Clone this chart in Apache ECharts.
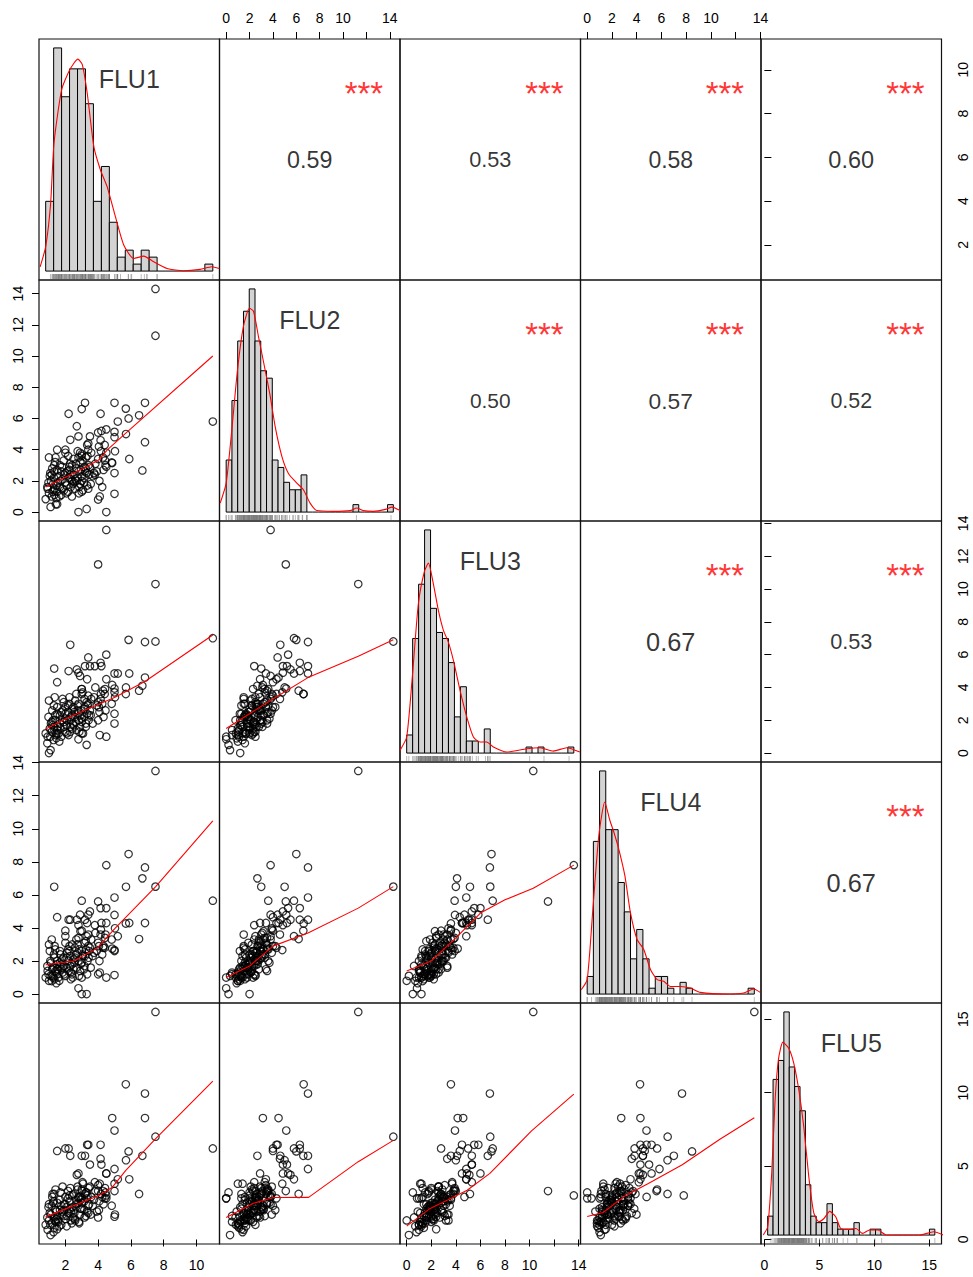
<!DOCTYPE html>
<html>
<head>
<meta charset="utf-8">
<title>FLU correlation matrix</title>
<script src="https://cdn.jsdelivr.net/npm/echarts@6.0.0/dist/echarts.min.js"></script>
<style>
  html, body { margin: 0; padding: 0; background: #fff; }
  #chart { width: 973px; height: 1277px; }
</style>
</head>
<body>
<div id="chart"></div>
<script>
const varNames = ['FLU1', 'FLU2', 'FLU3', 'FLU4', 'FLU5'];

// one entry per subject, same order in every array
const FLU1 = [
  7.5, 7.5, 11.0, 4.5, 4.0, 6.86, 5.86, 5.69, 6.86, 4.86, 5.0,
  3.2, 5.0, 2.2, 3.0, 4.15, 5.2, 6.5, 2.7, 4.5, 4.2,
  5.0, 5.7, 2.3, 2.8, 3.5, 4.15, 3.4, 6.7, 5.0, 5.0,
  4.83, 1.5, 2.0, 1.0, 1.32, 3.33, 4.5, 4.3, 5.03, 4.1,
  4.5, 2.8, 3.3, 3.0, 4.0, 3.0, 2.9, 3.8, 5.9, 4.4,
  0.8, 0.92, 1.0, 1.1, 1.05, 1.17, 1.25, 1.33, 1.28, 1.42,
  1.38, 1.12, 1.2, 1.33, 1.47, 0.97, 1.08, 1.22, 1.3, 1.4,
  0.9, 1.45, 1.35, 1.17, 1.5, 1.5, 1.58, 1.67, 1.67, 1.75,
  1.83, 1.8, 1.92, 1.9, 2.0, 2.0, 2.08, 2.17, 2.2, 2.25,
  2.33, 2.3, 2.42, 2.4, 1.5, 1.63, 1.7, 1.83, 1.92, 2.0,
  2.1, 2.17, 2.3, 2.42, 2.45, 1.55, 1.75, 2.08, 2.25, 2.33,
  2.5, 2.5, 2.58, 2.67, 2.67, 2.75, 2.83, 2.8, 2.92, 2.9,
  3.0, 3.0, 3.08, 3.17, 3.17, 3.25, 3.33, 3.3, 3.42, 3.4,
  2.55, 2.65, 2.75, 2.85, 2.95, 3.05, 3.15, 3.25, 3.35, 3.45,
  2.6, 2.8, 3.0, 3.2, 3.4, 3.5, 3.58, 3.67, 3.83, 3.92,
  4.0, 4.08, 4.17, 4.33, 4.42, 3.55, 3.75, 4.05, 4.25, 4.45
];
const FLU2 = [
  14.3, 11.3, 5.8, 3.8, 5.1, 7.0, 6.0, 6.63, 4.48, 3.14, 5.14,
  7.0, 7.0, 6.3, 6.6, 6.3, 5.8, 6.2, 5.5, 5.3, 5.2,
  4.8, 5.0, 4.63, 4.85, 4.85, 4.6, 4.4, 2.67, 2.5, 1.17,
  3.18, 4.0, 4.0, 3.5, 3.0, 4.3, 2.9, 3.5, 3.9, 1.0,
  0.0, 0.0, 0.2, 2.0, 0.8, 3.6, 3.8, 2.4, 3.4, 4.3,
  0.83, 1.5, 1.2, 0.33, 2.3, 1.0, 1.8, 2.6, 1.4, 0.5,
  3.2, 2.0, 2.8, 1.1, 1.7, 1.9, 2.5, 1.3, 2.2, 3.5,
  1.6, 0.9, 1.5, 2.4, 1.3, 0.5, 2.3, 1.6, 3.0, 1.1,
  2.1, 2.9, 1.4, 3.3, 2.5, 1.9, 1.2, 3.6, 2.2, 2.7,
  1.6, 3.1, 2.0, 1.0, 2.7, 1.0, 2.0, 1.5, 2.4, 3.8,
  2.6, 1.3, 2.4, 3.0, 1.8, 1.9, 2.6, 1.7, 2.9, 2.1,
  2.4, 3.4, 1.5, 2.8, 2.0, 3.9, 1.2, 2.6, 3.2, 1.8,
  2.3, 3.7, 1.4, 2.9, 2.2, 3.5, 1.7, 2.5, 3.0, 4.0,
  1.9, 3.1, 2.2, 1.6, 2.7, 3.3, 1.9, 2.8, 3.6, 2.4,
  2.1, 3.5, 1.3, 2.6, 1.5, 2.9, 3.8, 2.3, 3.1, 2.6,
  3.4, 2.0, 3.9, 2.7, 3.3, 1.8, 2.5, 4.2, 1.6, 3.0
];
const FLU3 = [
  6.8, 10.3, 7.0, 13.6, 11.5, 6.77, 6.9, 3.6, 4.6, 4.15, 3.93,
  5.3, 4.85, 5.0, 3.6, 5.5, 4.85, 3.8, 5.1, 6.0, 5.3,
  3.7, 4.0, 6.6, 4.9, 5.3, 3.3, 5.83, 4.1, 1.8, 2.4,
  3.0, 4.32, 2.8, 3.2, 5.15, 4.5, 4.5, 3.8, 3.4, 1.1,
  1.0, 0.84, 0.5, 1.2, 2.0, 3.9, 4.7, 5.3, 4.85, 3.6,
  1.2, 1.0, 0.0, 0.18, 1.5, 1.3, 2.0, 1.6, 0.8, 1.1,
  2.3, 1.8, 2.6, 1.4, 1.2, 2.2, 1.0, 1.7, 2.9, 2.0,
  0.6, 0.9, 3.4, 1.9, 2.4, 1.4, 1.2, 2.3, 1.8, 1.0,
  2.6, 2.0, 1.6, 3.1, 1.3, 2.1, 1.7, 2.5, 1.1, 3.0,
  2.2, 1.6, 2.7, 1.5, 2.8, 0.7, 1.5, 3.3, 1.9, 2.4,
  2.0, 2.9, 1.3, 2.3, 1.8, 1.6, 2.5, 1.2, 3.4, 2.0,
  1.7, 2.8, 2.2, 3.6, 1.4, 2.6, 2.0, 3.0, 2.3, 1.6,
  3.9, 2.1, 1.2, 2.7, 3.3, 1.8, 2.4, 3.1, 2.0, 3.5,
  2.5, 1.9, 2.9, 1.3, 2.6, 3.7, 2.2, 1.6, 2.9, 2.3,
  3.2, 2.4, 1.9, 2.8, 3.0, 2.6, 3.3, 1.8, 4.0, 2.9,
  3.1, 2.5, 3.6, 2.2, 3.9, 2.3, 3.4, 2.8, 3.0, 2.6
];
const FLU4 = [
  6.5, 13.5, 5.65, 7.8, 5.6, 7.66, 8.47, 4.27, 4.3, 2.75, 4.79,
  4.5, 5.84, 4.5, 3.83, 5.2, 3.5, 3.33, 4.5, 5.2, 4.3,
  2.66, 6.49, 4.5, 4.17, 5.0, 3.6, 4.8, 7.0, 1.15, 2.6,
  3.3, 4.65, 3.83, 3.0, 6.49, 4.3, 4.3, 2.8, 3.98, 1.3,
  1.0, 0.35, 0.0, 0.0, 1.2, 5.65, 4.8, 4.17, 4.3, 2.8,
  1.0, 1.4, 0.8, 1.1, 2.6, 0.79, 1.6, 2.2, 1.0, 1.3,
  2.7, 1.9, 1.5, 0.9, 1.8, 1.2, 2.0, 1.1, 2.4, 1.4,
  1.7, 0.66, 2.9, 3.3, 1.5, 1.2, 1.0, 1.9, 2.6, 1.5,
  1.3, 2.1, 1.7, 2.2, 1.1, 3.1, 1.6, 2.7, 1.4, 2.9,
  0.9, 2.3, 1.8, 1.2, 2.0, 0.8, 2.4, 1.6, 1.2, 3.5,
  2.5, 2.0, 1.7, 3.0, 1.0, 1.5, 1.8, 2.2, 2.6, 1.3,
  2.1, 1.5, 2.8, 3.3, 1.6, 2.5, 1.1, 2.0, 3.8, 1.4,
  2.6, 1.9, 2.3, 3.1, 1.7, 2.7, 1.2, 3.5, 2.2, 2.9,
  1.9, 2.4, 3.0, 2.7, 1.8, 2.4, 1.5, 3.2, 2.0, 2.6,
  2.2, 3.4, 1.0, 2.3, 3.6, 2.8, 3.3, 2.3, 3.7, 2.6,
  3.1, 2.0, 3.9, 2.9, 3.4, 1.6, 2.5, 2.9, 2.4, 3.6
];
const FLU5 = [
  7.0, 15.5, 6.2, 3.0, 3.3, 9.94, 6.0, 10.57, 8.27, 8.27, 7.42,
  5.7, 4.8, 6.2, 5.7, 6.45, 4.1, 3.1, 4.4, 4.5, 5.1,
  3.8, 5.4, 5.7, 4.5, 5.1, 5.5, 6.45, 5.7, 3.3, 1.55,
  2.3, 6.03, 6.2, 2.4, 3.1, 6.45, 4.5, 3.3, 1.7, 3.8,
  2.8, 2.8, 3.2, 2.8, 1.5, 3.4, 2.9, 3.9, 4.1, 2.8,
  1.0, 0.66, 1.3, 0.3, 1.8, 1.1, 2.5, 1.5, 0.5, 1.2,
  2.0, 1.7, 2.9, 0.8, 1.4, 2.2, 1.0, 3.1, 2.6, 3.4,
  1.5, 1.9, 1.3, 2.3, 0.7, 1.6, 1.2, 2.7, 2.0, 1.0,
  3.6, 1.9, 2.4, 1.6, 2.9, 1.4, 2.2, 3.3, 1.8, 2.6,
  1.3, 2.1, 3.0, 1.1, 2.5, 0.9, 3.2, 1.7, 2.0, 2.4,
  1.6, 2.8, 3.5, 2.2, 1.5, 1.3, 2.3, 0.9, 3.0, 1.9,
  2.0, 3.1, 1.4, 2.7, 2.4, 3.6, 1.2, 2.9, 2.1, 1.7,
  3.3, 2.5, 3.8, 1.5, 2.6, 3.2, 1.9, 2.8, 3.5, 2.3,
  1.8, 2.2, 3.4, 1.1, 2.7, 3.9, 2.0, 1.6, 3.0, 2.4,
  1.3, 2.5, 2.1, 3.1, 1.8, 3.6, 2.9, 2.3, 3.3, 1.9,
  3.7, 2.6, 3.1, 2.4, 3.5, 1.7, 2.7, 2.0, 2.9, 3.2
];

// histogram bar heights (0.5 wide bins)
const histStart = [0.5, 0, 0, 0, 0];
const histBin = 0.5;
const FLU1_hist = [10, 32, 25, 29, 29, 24, 10, 15, 7, 2, 3, 1, 3, 2, 0, 0, 0, 0, 0, 0, 1];
const FLU2_hist = [7, 15, 23, 27, 30, 23, 19, 18, 7, 6, 4, 3, 3, 5, 0, 0, 0, 0, 0, 0, 0, 0, 1, 0, 0, 0, 0, 0, 1];
const FLU3_hist = [3, 19, 28, 37, 24, 20, 19, 15, 6, 11, 2, 2, 0, 4, 0, 0, 0, 0, 0, 0, 1, 0, 1, 0, 0, 0, 0, 1];
const FLU4_hist = [3, 26, 38, 28, 28, 19, 14, 6, 11, 6, 1, 3, 3, 1, 0, 2, 1, 0, 0, 0, 0, 0, 0, 0, 0, 0, 1];
const FLU5_hist = [3.2, 26.3, 29.5, 37.7, 28.4, 25.1, 21, 8.5, 3.2, 2.1, 2.1, 5.3, 2.1, 1, 1, 1, 2.1, 0, 0, 1, 1, 0, 0, 0, 0, 0, 0, 0, 0, 0, 1];

// red density curves on the diagonal, same units as the bars
const FLU1_dens = [[0.15, 0.6], [0.5, 3.5], [0.81, 9.7], [1.02, 18.3], [1.5, 26.0], [2.02, 28.9], [2.52, 30.4], [2.8, 29.6], [3.11, 25.5], [3.53, 17.8], [3.94, 14.5], [4.36, 12.1], [4.88, 7.8], [5.41, 3.7], [6.03, 1.8], [6.66, 2.15], [7.29, 1.34], [8.12, 0.38], [9.16, 0.05], [10.2, 0.24], [10.94, 0.62], [11.4, 0.38]];
const FLU2_dens = [[-0.52, 1.2], [0, 3.9], [0.49, 11.1], [0.98, 19.1], [1.5, 25.0], [2.02, 27.4], [2.37, 27.0], [2.8, 23.6], [3.38, 19.1], [3.82, 15.6], [4.25, 11.5], [4.83, 7.5], [5.4, 5.2], [6.13, 3.9], [6.7, 3.0], [7.28, 1.2], [7.86, 0.2], [9.3, 0.1], [10.75, 0.2], [11.33, 0.54], [11.9, 0.2], [12.77, 0.1], [13.9, 0.4], [14.36, 0.67], [15.1, 0.2]];
const FLU3_dens = [[-0.56, 0.44], [0, 2.66], [0.47, 12.6], [0.98, 24.8], [1.48, 30.1], [1.82, 31.5], [2.23, 28.1], [2.65, 23.7], [3.07, 20.4], [3.49, 18.4], [3.91, 15.4], [4.47, 10.4], [5.03, 6.0], [5.59, 2.66], [6.15, 1.83], [6.7, 1.83], [7.26, 1.0], [8.38, 0.17], [10.06, 0.72], [11.17, 0.89], [12.29, 0.33], [13.41, 0.89], [14.5, 0.17]];
const FLU4_dens = [[-0.48, 0.74], [0, 2.46], [0.46, 14.5], [0.94, 27.0], [1.42, 32.7], [1.83, 29.6], [2.15, 27.6], [2.55, 24.7], [3.04, 20.2], [3.49, 13.9], [4.03, 9.3], [4.57, 7.6], [5.11, 4.2], [5.65, 2.46], [6.18, 2.17], [6.72, 1.3], [7.53, 1.3], [8.33, 1.03], [9.14, 0.29], [11.29, 0], [12.63, 0.17], [13.44, 0.86], [13.98, 0.29]];
const FLU5_dens = [[-0.41, 0], [0, 1.4], [0.375, 10.5], [0.69, 22.9], [1.0, 29.7], [1.41, 32.6], [1.94, 31.6], [2.41, 29.1], [2.88, 24.6], [3.34, 18.4], [3.81, 9.9], [4.28, 3.7], [4.75, 2.26], [5.22, 2.8], [5.75, 4.0], [6.31, 3.1], [6.78, 1.1], [7.56, 0.96], [8.19, 1.1], [8.81, 0.28], [9.44, 0.85], [10.22, 0.85], [11.0, 0], [14.1, 0], [15.4, 0.56], [16.3, 0]];

// lowess lines in the lower panels, [x, y] in data units
const smooth21 = [[0.8, 1.6], [3.33, 2.92], [4.05, 3.35], [4.56, 3.99], [5.69, 5.06], [11.0, 10.0]];
const smooth31 = [[0.8, 1.47], [2.1, 2.12], [3.33, 2.67], [5.03, 3.4], [6.86, 4.36], [11.0, 7.2]];
const smooth41 = [[0.8, 1.77], [2.51, 2.0], [3.95, 2.78], [5.03, 3.98], [7.5, 6.49], [11.0, 10.48]];
const smooth51 = [[0.8, 1.54], [4.05, 3.0], [4.87, 3.56], [5.69, 4.71], [7.5, 6.86], [11.0, 10.78]];
const smooth32 = [[0, 1.5], [2, 2.4], [4, 3.3], [7, 4.6], [11.3, 5.9], [14.3, 6.9]];
const smooth42 = [[0, 1.0], [2, 1.7], [4, 2.9], [7, 3.7], [11.3, 5.2], [14.3, 6.5]];
const smooth52 = [[0, 1.49], [2.34, 2.47], [4.05, 2.86], [7.05, 2.87], [11.3, 5.3], [14.3, 6.75]];
const smooth43 = [[0, 1.4], [2, 2.0], [4, 3.4], [6, 4.9], [8, 5.7], [10.3, 6.4], [13.6, 7.8]];
const smooth53 = [[0, 0.91], [1.83, 2.07], [3.37, 2.7], [4.92, 3.35], [6.77, 4.5], [10.16, 7.4], [13.6, 9.9]];
const smooth54 = [[0, 1.56], [1.29, 1.84], [3.11, 3.0], [4.94, 3.81], [7.68, 5.09], [10.72, 6.83], [13.5, 8.29]];

// upper panels, row by row: correlation and significance
const corrText = ['0.59', '0.53', '0.58', '0.60', '0.50', '0.57', '0.52', '0.67', '0.53', '0.67'];
const corrStars = ['***', '***', '***', '***', '***', '***', '***', '***', '***', '***'];

// axis ticks per variable (labels that R dropped for overlap are left out)
const axisTicks = [
  [2, 4, 6, 8, 10],
  [0, 2, 4, 6, 8, 10, 12, 14],
  [0, 2, 4, 6, 8, 10, 12, 14],
  [0, 2, 4, 6, 8, 10, 12, 14],
  [0, 5, 10, 15]
];
const xTickLabels = [
  [2, 4, 6, 8, 10],
  [0, 2, 4, 6, 8, 10, 14],
  [0, 2, 4, 6, 8, 10, 14],
  [0, 2, 4, 6, 8, 10, 14],
  [0, 5, 10, 15]
];

const values = [FLU1, FLU2, FLU3, FLU4, FLU5];
const hists = [FLU1_hist, FLU2_hist, FLU3_hist, FLU4_hist, FLU5_hist];
const dens = [FLU1_dens, FLU2_dens, FLU3_dens, FLU4_dens, FLU5_dens];
const smooths = {
  '2-1': smooth21, '3-1': smooth31, '4-1': smooth41, '5-1': smooth51,
  '3-2': smooth32, '4-2': smooth42, '5-2': smooth52,
  '4-3': smooth43, '5-3': smooth53, '5-4': smooth54
};

const FONT = "'Liberation Sans', Arial, Helvetica, sans-serif";
const LEFT = 39, TOP = 39, CELL_W = 180.5, CELL_H = 241;

// R pads every range by 4% on each side
const pad = (lo, hi) => { const d = (hi - lo) * 0.04; return [lo - d, hi + d]; };
const ranges = values.map(v => pad(Math.min(...v), Math.max(...v)));

const grids = [], xAxes = [], yAxes = [], series = [];

const plainAxis = (gridIndex, range, position) => ({
  gridIndex, type: 'value', min: range[0], max: range[1], position, show: false,
  splitLine: { show: false }, axisLine: { show: false }
});

const tickedAxis = (gridIndex, range, position, ticks, labels) => ({
  gridIndex, type: 'value', min: range[0], max: range[1], position, show: true,
  splitLine: { show: false },
  axisLine: { show: false },
  axisTick: { show: true, inside: false, length: 7, customValues: ticks, lineStyle: { color: '#000', width: 1 } },
  axisLabel: {
    show: true, customValues: labels, margin: 14, fontSize: 14, color: '#000', fontFamily: FONT,
    rotate: (position === 'left' || position === 'right') ? 90 : 0
  }
});

function addDiagonal(k, g, xi, yi) {
  const bars = hists[k];
  const b0 = histStart[k], b1 = b0 + bars.length * histBin;
  const hx = pad(b0, b1), hy = pad(0, Math.max(...bars));
  xAxes.push(plainAxis(g, hx, 'top'));
  yAxes.push(plainAxis(g, hy, 'left'));

  series.push({
    type: 'custom', xAxisIndex: xi, yAxisIndex: yi, silent: true,
    data: bars.map((h, i) => [b0 + i * histBin, b0 + (i + 1) * histBin, h]),
    encode: { x: [0, 1], y: 2 },
    renderItem: (params, api) => {
      const a = api.coord([api.value(0), api.value(2)]);
      const b = api.coord([api.value(1), 0]);
      if (api.value(2) === 0) {
        return { type: 'line', shape: { x1: a[0], y1: b[1], x2: b[0], y2: b[1] }, style: { stroke: '#000', lineWidth: 1 } };
      }
      return {
        type: 'rect',
        shape: { x: a[0], y: a[1], width: b[0] - a[0], height: b[1] - a[1] },
        style: { fill: '#D3D3D3', stroke: '#000', lineWidth: 1 }
      };
    }
  });

  series.push({
    type: 'line', xAxisIndex: xi, yAxisIndex: yi, showSymbol: false, silent: true, smooth: 0.2,
    lineStyle: { color: '#FF0000', width: 1.1 }, data: dens[k]
  });

  // rug along the bottom edge
  series.push({
    type: 'custom', xAxisIndex: xi, yAxisIndex: yi, silent: true,
    data: values[k].map(v => [v, hy[0]]),
    encode: { x: 0, y: 1 },
    renderItem: (params, api) => {
      const p = api.coord([api.value(0), api.value(1)]);
      return { type: 'line', shape: { x1: p[0], y1: p[1] - 1, x2: p[0], y2: p[1] - 6 }, style: { stroke: '#777', lineWidth: 0.5 } };
    }
  });

  series.push({
    type: 'scatter', xAxisIndex: xi, yAxisIndex: yi, symbolSize: 1, silent: true,
    itemStyle: { color: 'rgba(0,0,0,0)' },
    data: [{
      value: [(hx[0] + hx[1]) / 2, hy[0] + 0.834 * (hy[1] - hy[0])],
      label: { show: true, position: 'inside', formatter: varNames[k], fontSize: 25, color: '#000', fontFamily: FONT }
    }]
  });

  if (k === 4) {
    xAxes.push(tickedAxis(g, ranges[k], 'bottom', axisTicks[k], xTickLabels[k]));
    yAxes.push(tickedAxis(g, ranges[k], 'right', axisTicks[k], axisTicks[k]));
  }
}

let corrIdx = 0;
for (let r = 0; r < 5; r++) {
  for (let c = 0; c < 5; c++) {
    const g = grids.length;
    grids.push({
      left: LEFT + c * CELL_W, top: TOP + r * CELL_H, width: CELL_W, height: CELL_H,
      show: true, borderColor: '#111', borderWidth: 1.2, backgroundColor: 'rgba(0,0,0,0)'
    });
    const xi = xAxes.length, yi = yAxes.length;
    if (r === c) {
      addDiagonal(r, g, xi, yi);
      continue;
    }

    if (r === 0 && c % 2 === 1) xAxes.push(tickedAxis(g, ranges[c], 'top', axisTicks[c], xTickLabels[c]));
    else if (r === 4 && c % 2 === 0) xAxes.push(tickedAxis(g, ranges[c], 'bottom', axisTicks[c], xTickLabels[c]));
    else xAxes.push(plainAxis(g, ranges[c], 'bottom'));

    if (c === 0 && r % 2 === 1) yAxes.push(tickedAxis(g, ranges[r], 'left', axisTicks[r], axisTicks[r]));
    else if (c === 4 && r % 2 === 0) yAxes.push(tickedAxis(g, ranges[r], 'right', axisTicks[r], axisTicks[r]));
    else yAxes.push(plainAxis(g, ranges[r], 'left'));

    if (r > c) {
      series.push({
        type: 'scatter', xAxisIndex: xi, yAxisIndex: yi, symbol: 'circle', symbolSize: 7.5, silent: true,
        itemStyle: { color: 'rgba(0,0,0,0)', borderColor: '#000', borderWidth: 1.2 },
        data: values[c].map((v, i) => [v, values[r][i]])
      });
      series.push({
        type: 'line', xAxisIndex: xi, yAxisIndex: yi, showSymbol: false, silent: true,
        lineStyle: { color: '#FF0000', width: 1.1 },
        data: smooths[(r + 1) + '-' + (c + 1)]
      });
    } else {
      const xr = ranges[c], yr = ranges[r];
      const at = (fx, fy) => [xr[0] + fx * (xr[1] - xr[0]), yr[0] + fy * (yr[1] - yr[0])];
      const rv = parseFloat(corrText[corrIdx]);
      series.push({
        type: 'scatter', xAxisIndex: xi, yAxisIndex: yi, symbolSize: 1, silent: true,
        itemStyle: { color: 'rgba(0,0,0,0)' },
        data: [
          {
            value: at(0.5, 0.5),
            label: { show: true, position: 'inside', formatter: corrText[corrIdx], fontSize: 34 * (Math.abs(rv) + 0.3) / 1.3, color: '#000', fontFamily: FONT }
          },
          {
            value: at(0.8, 0.8),
            label: { show: true, position: 'inside', formatter: corrStars[corrIdx], fontSize: 33, color: '#FF0000', fontFamily: FONT, offset: [0, 6] }
          }
        ]
      });
      corrIdx++;
    }
  }
}

const chart = echarts.init(document.getElementById('chart'), null, { renderer: 'svg' });
chart.setOption({
  animation: false,
  backgroundColor: '#fff',
  grid: grids,
  xAxis: xAxes,
  yAxis: yAxes,
  series
});
window.addEventListener('resize', () => chart.resize());
</script>
</body>
</html>
